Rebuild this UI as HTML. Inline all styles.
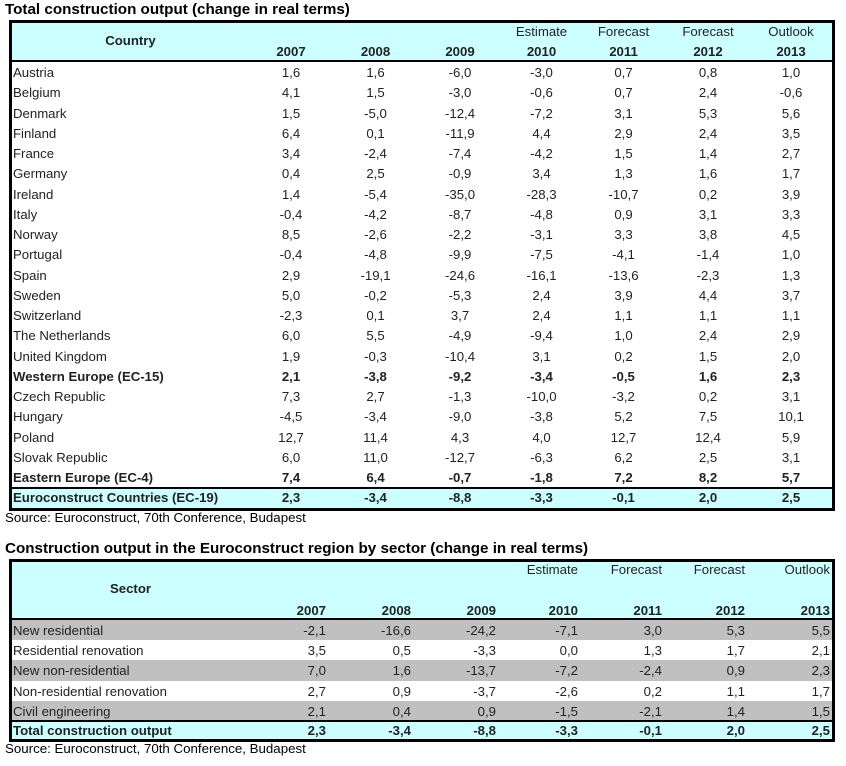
<!DOCTYPE html>
<html><head><meta charset="utf-8"><style>
*{margin:0;padding:0;box-sizing:border-box}
body{width:846px;height:766px;background:#fff;position:relative;font-family:"Liberation Sans",Arial,sans-serif;font-size:13.2px;color:#222;overflow:hidden}
.ttl{position:absolute;left:5px;font-weight:bold;font-size:15.2px;color:#000}
.src{position:absolute;left:5px;font-size:13.3px;color:#000}
.box{position:absolute;left:9px;border:3px solid #000}
.r{position:absolute;left:12px;height:20.25px;line-height:21px;display:grid}
.t1{grid-template-columns:237px 84px 85px 84px 79px 85px 84px 82px;width:820px}
.t1>span{text-align:center}
.t1>span:first-child{text-align:left;padding-left:1px}
.t2{grid-template-columns:237px 77px 85px 85px 82px 84px 83px 85px;width:820px}
.t2>span{text-align:right}
.t2>span:first-child{text-align:left;padding-left:1px}
.b{font-weight:bold}
.cy{background:#ccffff}
.gr{background:#c0c0c0}
.ln{position:absolute;left:9px;background:#000}
</style></head><body>
<div class="ttl" style="top:1px">Total construction output (change in real terms)</div>
<div class="box" style="top:20px;width:826px;height:491px"></div>
<div class="cy" style="position:absolute;left:12px;top:23px;width:820px;height:37px"></div>
<div class="ln" style="top:60px;width:826px;height:2px"></div>
<div class="r t1" style="top:21px"><span></span><span></span><span></span><span></span><span>Estimate</span><span>Forecast</span><span>Forecast</span><span>Outlook</span></div>
<div class="r t1 b" style="top:30px"><span style="text-align:center;padding-left:0">Country</span></div>
<div class="r t1 b" style="top:41px"><span></span><span>2007</span><span>2008</span><span>2009</span><span>2010</span><span>2011</span><span>2012</span><span>2013</span></div>

<div class="r t1" style="top:62px"><span>Austria</span><span>1,6</span><span>1,6</span><span>-6,0</span><span>-3,0</span><span>0,7</span><span>0,8</span><span>1,0</span></div>
<div class="r t1" style="top:82.25px"><span>Belgium</span><span>4,1</span><span>1,5</span><span>-3,0</span><span>-0,6</span><span>0,7</span><span>2,4</span><span>-0,6</span></div>
<div class="r t1" style="top:102.5px"><span>Denmark</span><span>1,5</span><span>-5,0</span><span>-12,4</span><span>-7,2</span><span>3,1</span><span>5,3</span><span>5,6</span></div>
<div class="r t1" style="top:122.75px"><span>Finland</span><span>6,4</span><span>0,1</span><span>-11,9</span><span>4,4</span><span>2,9</span><span>2,4</span><span>3,5</span></div>
<div class="r t1" style="top:143px"><span>France</span><span>3,4</span><span>-2,4</span><span>-7,4</span><span>-4,2</span><span>1,5</span><span>1,4</span><span>2,7</span></div>
<div class="r t1" style="top:163.25px"><span>Germany</span><span>0,4</span><span>2,5</span><span>-0,9</span><span>3,4</span><span>1,3</span><span>1,6</span><span>1,7</span></div>
<div class="r t1" style="top:183.5px"><span>Ireland</span><span>1,4</span><span>-5,4</span><span>-35,0</span><span>-28,3</span><span>-10,7</span><span>0,2</span><span>3,9</span></div>
<div class="r t1" style="top:203.75px"><span>Italy</span><span>-0,4</span><span>-4,2</span><span>-8,7</span><span>-4,8</span><span>0,9</span><span>3,1</span><span>3,3</span></div>
<div class="r t1" style="top:224px"><span>Norway</span><span>8,5</span><span>-2,6</span><span>-2,2</span><span>-3,1</span><span>3,3</span><span>3,8</span><span>4,5</span></div>
<div class="r t1" style="top:244.25px"><span>Portugal</span><span>-0,4</span><span>-4,8</span><span>-9,9</span><span>-7,5</span><span>-4,1</span><span>-1,4</span><span>1,0</span></div>
<div class="r t1" style="top:264.5px"><span>Spain</span><span>2,9</span><span>-19,1</span><span>-24,6</span><span>-16,1</span><span>-13,6</span><span>-2,3</span><span>1,3</span></div>
<div class="r t1" style="top:284.75px"><span>Sweden</span><span>5,0</span><span>-0,2</span><span>-5,3</span><span>2,4</span><span>3,9</span><span>4,4</span><span>3,7</span></div>
<div class="r t1" style="top:305px"><span>Switzerland</span><span>-2,3</span><span>0,1</span><span>3,7</span><span>2,4</span><span>1,1</span><span>1,1</span><span>1,1</span></div>
<div class="r t1" style="top:325.25px"><span>The Netherlands</span><span>6,0</span><span>5,5</span><span>-4,9</span><span>-9,4</span><span>1,0</span><span>2,4</span><span>2,9</span></div>
<div class="r t1" style="top:345.5px"><span>United Kingdom</span><span>1,9</span><span>-0,3</span><span>-10,4</span><span>3,1</span><span>0,2</span><span>1,5</span><span>2,0</span></div>
<div class="r t1 b" style="top:365.75px"><span>Western Europe (EC-15)</span><span>2,1</span><span>-3,8</span><span>-9,2</span><span>-3,4</span><span>-0,5</span><span>1,6</span><span>2,3</span></div>
<div class="r t1" style="top:386px"><span>Czech Republic</span><span>7,3</span><span>2,7</span><span>-1,3</span><span>-10,0</span><span>-3,2</span><span>0,2</span><span>3,1</span></div>
<div class="r t1" style="top:406.25px"><span>Hungary</span><span>-4,5</span><span>-3,4</span><span>-9,0</span><span>-3,8</span><span>5,2</span><span>7,5</span><span>10,1</span></div>
<div class="r t1" style="top:426.5px"><span>Poland</span><span>12,7</span><span>11,4</span><span>4,3</span><span>4,0</span><span>12,7</span><span>12,4</span><span>5,9</span></div>
<div class="r t1" style="top:446.75px"><span>Slovak Republic</span><span>6,0</span><span>11,0</span><span>-12,7</span><span>-6,3</span><span>6,2</span><span>2,5</span><span>3,1</span></div>
<div class="r t1 b" style="top:467px"><span>Eastern Europe (EC-4)</span><span>7,4</span><span>6,4</span><span>-0,7</span><span>-1,8</span><span>7,2</span><span>8,2</span><span>5,7</span></div>
<div class="ln" style="top:487px;width:826px;height:2px"></div>
<div class="r t1 b cy" style="top:489px;height:19px;line-height:18px"><span>Euroconstruct Countries (EC-19)</span><span>2,3</span><span>-3,4</span><span>-8,8</span><span>-3,3</span><span>-0,1</span><span>2,0</span><span>2,5</span></div>
<div class="src" style="top:510px">Source: Euroconstruct, 70th Conference, Budapest</div>

<div class="ttl" style="top:540px">Construction output in the Euroconstruct region by sector (change in real terms)</div>
<div class="box" style="top:559px;width:826px;height:183px"></div>
<div class="cy" style="position:absolute;left:12px;top:562px;width:820px;height:56px"></div>
<div class="ln" style="top:618px;width:826px;height:2px"></div>
<div class="r t2" style="top:559px"><span></span><span></span><span></span><span></span><span>Estimate</span><span>Forecast</span><span>Forecast</span><span>Outlook</span></div>
<div class="r t2 b" style="top:578px"><span style="text-align:center;padding-left:0">Sector</span></div>
<div class="r t2 b" style="top:600px"><span></span><span>2007</span><span>2008</span><span>2009</span><span>2010</span><span>2011</span><span>2012</span><span>2013</span></div>
<div class="r t2 gr" style="top:620px"><span>New residential</span><span>-2,1</span><span>-16,6</span><span>-24,2</span><span>-7,1</span><span>3,0</span><span>5,3</span><span>5,5</span></div>
<div class="r t2" style="top:640.2px"><span>Residential renovation</span><span>3,5</span><span>0,5</span><span>-3,3</span><span>0,0</span><span>1,3</span><span>1,7</span><span>2,1</span></div>
<div class="r t2 gr" style="top:660.4px"><span>New non-residential</span><span>7,0</span><span>1,6</span><span>-13,7</span><span>-7,2</span><span>-2,4</span><span>0,9</span><span>2,3</span></div>
<div class="r t2" style="top:680.6px"><span>Non-residential renovation</span><span>2,7</span><span>0,9</span><span>-3,7</span><span>-2,6</span><span>0,2</span><span>1,1</span><span>1,7</span></div>
<div class="r t2 gr" style="top:700.8px"><span>Civil engineering</span><span>2,1</span><span>0,4</span><span>0,9</span><span>-1,5</span><span>-2,1</span><span>1,4</span><span>1,5</span></div>
<div class="ln" style="top:720px;width:826px;height:2px"></div>
<div class="r t2 b cy" style="top:722px;height:17px;line-height:18px"><span>Total construction output</span><span>2,3</span><span>-3,4</span><span>-8,8</span><span>-3,3</span><span>-0,1</span><span>2,0</span><span>2,5</span></div>
<div class="src" style="top:741px">Source: Euroconstruct, 70th Conference, Budapest</div>
</body></html>
